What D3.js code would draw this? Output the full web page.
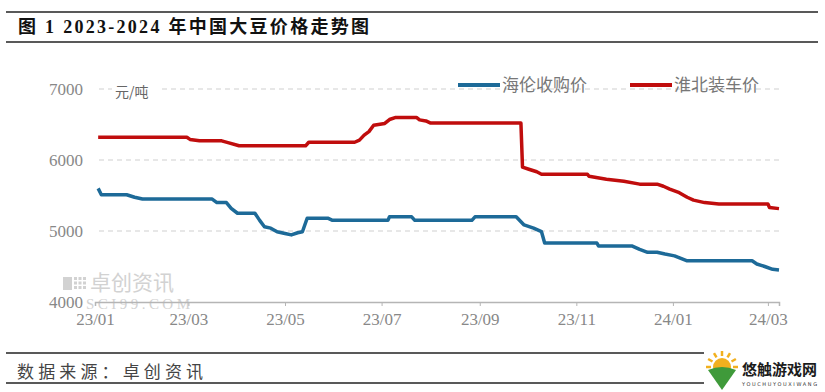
<!DOCTYPE html>
<html>
<head>
    <meta charset="utf-8">
    <title>2023-2024 年中国大豆价格走势图</title>
    <style>
        body { margin: 0; background: #fff; }
        svg { display: block; }
    </style>
    <script src="https://cdnjs.cloudflare.com/ajax/libs/d3/7.8.5/d3.min.js"></script>
</head>
<body>
    <script>
        const width = 825
        const height = 392

        const seriesNames = ["海伦收购价", "淮北装车价"]
        const seriesColors = ["#1d6a98", "#c00d0d"]
        const yTicks = [4000, 5000, 6000, 7000]

        // 海伦收购价
        const helunDates = ["2023-01-03","2023-01-05","2023-01-21","2023-01-26","2023-01-31","2023-03-16","2023-03-19","2023-03-25",
            "2023-03-28","2023-04-01","2023-04-12","2023-04-15","2023-04-18","2023-04-22","2023-04-26","2023-05-01","2023-05-05",
            "2023-05-09","2023-05-12","2023-05-15","2023-05-28","2023-05-31","2023-07-05","2023-07-06","2023-07-20","2023-07-22",
            "2023-08-27","2023-08-29","2023-09-24","2023-09-29","2023-10-05","2023-10-10","2023-10-12","2023-11-14","2023-11-15",
            "2023-12-06","2023-12-11","2023-12-16","2023-12-22","2023-12-27","2024-01-02","2024-01-06","2024-01-10","2024-02-20",
            "2024-02-23","2024-02-28","2024-03-04","2024-03-08"]
        const helunValues = [5600, 5510, 5510, 5475, 5450, 5450, 5400, 5400,
            5320, 5250, 5250, 5150, 5060, 5040, 4990, 4965, 4945,
            4975, 4990, 5180, 5180, 5150, 5150, 5200, 5200, 5150,
            5150, 5200, 5200, 5085, 5040, 4990, 4830, 4830, 4790,
            4790, 4740, 4700, 4700, 4675, 4650, 4615, 4580, 4580,
            4535, 4500, 4460, 4450]

        // 淮北装车价
        const huaibeiDates = ["2023-01-03","2023-02-28","2023-03-02","2023-03-08","2023-03-22","2023-03-26","2023-04-02","2023-05-14",
            "2023-05-16","2023-06-14","2023-06-17","2023-06-20","2023-06-23","2023-06-26","2023-07-03","2023-07-06","2023-07-10",
            "2023-07-23","2023-07-25","2023-07-29","2023-08-01","2023-09-27","2023-09-28","2023-10-02","2023-10-07","2023-10-10",
            "2023-11-08","2023-11-09","2023-11-20","2023-12-01","2023-12-11","2023-12-22","2023-12-26","2023-12-30","2024-01-05",
            "2024-01-10","2024-01-14","2024-01-21","2024-01-30","2024-03-01","2024-03-02","2024-03-08"]
        const huaibeiValues = [6320, 6320, 6290, 6270, 6270, 6245, 6200, 6200,
            6250, 6250, 6280, 6350, 6400, 6490, 6515, 6570, 6600,
            6600, 6565, 6550, 6520, 6520, 5900, 5870, 5835, 5800,
            5800, 5770, 5730, 5700, 5660, 5660, 5630, 5590, 5540,
            5475, 5435, 5400, 5380, 5380, 5330, 5315]

        const parse = d3.timeParse("%Y-%m-%d")
        const series = [
            d3.zip(helunDates.map(parse), helunValues),
            d3.zip(huaibeiDates.map(parse), huaibeiValues)
        ]

        const serif = "'Liberation Serif', 'Noto Sans CJK SC', serif"
        const cjk = "'Noto Sans CJK SC', sans-serif"

        let svg = d3.select("body").append("svg")
            .attr("width", width)
            .attr("height", height)

        // title block
        svg.append("line").attr("x1", 6).attr("x2", 818).attr("y1", 12).attr("y2", 12)
            .attr("stroke", "#222").attr("stroke-width", 1.5)
        svg.append("line").attr("x1", 6).attr("x2", 818).attr("y1", 42).attr("y2", 42)
            .attr("stroke", "#222").attr("stroke-width", 1.5)
        svg.append("text")
            .attr("x", 18).attr("y", 33)
            .attr("font-family", serif)
            .attr("font-weight", "bold")
            .attr("font-size", 18)
            .attr("fill", "#111")
            .attr("textLength", 351)
            .attr("lengthAdjust", "spacing")
            .text("图 1 2023-2024 年中国大豆价格走势图")

        let x = d3.scaleTime()
            .domain([parse("2023-01-01"), parse("2024-03-08")])
            .range([95, 779])
        let y = d3.scaleLinear()
            .domain([4000, 7000])
            .range([302, 89])

        // gridlines
        svg.append("g")
            .selectAll("line")
            .data(yTicks.slice(1))
            .join("line")
                .attr("x1", 99).attr("x2", 779)
                .attr("y1", d => y(d)).attr("y2", d => y(d))
                .attr("stroke", "#cfcfcf")
                .attr("stroke-dasharray", "5,4")

        // y labels
        svg.append("g")
            .selectAll("text")
            .data(yTicks)
            .join("text")
                .attr("x", 83)
                .attr("y", d => y(d) + 6)
                .attr("text-anchor", "end")
                .attr("font-family", serif)
                .attr("font-size", 17)
                .attr("fill", "#888")
                .text(d => d)

        // watermark
        let wm = svg.append("g").attr("fill", "#d2d2d2")
        wm.append("rect").attr("x", 63).attr("y", 277).attr("width", 9).attr("height", 13)
        d3.range(9).forEach(i => {
            wm.append("rect")
                .attr("x", 74 + (i % 3) * 4.5).attr("y", 277 + Math.floor(i / 3) * 4.5)
                .attr("width", 3).attr("height", 3)
        })
        wm.append("text")
            .attr("x", 90).attr("y", 290)
            .attr("font-family", cjk)
            .attr("font-size", 21)
            .text("卓创资讯")
        wm.append("text")
            .attr("x", 86).attr("y", 309)
            .attr("font-family", serif)
            .attr("font-size", 15)
            .attr("textLength", 104)
            .text("SCI99.COM")

        // x axis
        let xAxis = svg.append("g")
            .attr("transform", `translate(0, ${y(4000)})`)
            .call(d3.axisBottom(x)
                .ticks(d3.timeMonth.every(2))
                .tickFormat(d3.timeFormat("%y/%m"))
                .tickSize(4)
                .tickPadding(7))
        xAxis.select(".domain").attr("stroke", "#b5b5b5").attr("stroke-width", 1.5)
        xAxis.selectAll(".tick line").attr("stroke", "#b5b5b5")
        xAxis.selectAll(".tick text")
            .attr("font-family", serif)
            .attr("font-size", 17)
            .attr("fill", "#888")

        // unit label
        svg.append("rect").attr("x", 112).attr("y", 82).attr("width", 48).attr("height", 18).attr("fill", "#fff")
        svg.append("text")
            .attr("x", 115).attr("y", 97)
            .attr("font-family", cjk)
            .attr("font-size", 14)
            .attr("fill", "#666")
            .text("元/吨")

        // lines
        let line = d3.line()
            .x(d => x(d[0]))
            .y(d => y(d[1]))
        svg.append("g")
            .selectAll("path")
            .data(series)
            .join("path")
                .attr("d", line)
                .attr("fill", "none")
                .attr("stroke", (d, i) => seriesColors[i])
                .attr("stroke-width", 3.5)
                .attr("stroke-linejoin", "round")

        // legend
        let legend = svg.append("g")
            .selectAll("g")
            .data(seriesNames)
            .join("g")
                .attr("transform", (d, i) => `translate(${[458, 630][i]}, 85)`)
        legend.append("rect")
            .attr("x", 0).attr("y", -2)
            .attr("width", 42).attr("height", 4)
            .attr("fill", (d, i) => seriesColors[i])
        legend.append("text")
            .attr("x", 44).attr("y", 6)
            .attr("font-family", cjk)
            .attr("font-size", 17)
            .attr("fill", "#777")
            .text(d => d)

        // source footer
        svg.append("line").attr("x1", 6).attr("x2", 818).attr("y1", 353).attr("y2", 353)
            .attr("stroke", "#222").attr("stroke-width", 1.5)
        svg.append("line").attr("x1", 6).attr("x2", 818).attr("y1", 383).attr("y2", 383)
            .attr("stroke", "#222").attr("stroke-width", 1.5)
        svg.append("text")
            .attr("x", 17).attr("y", 378)
            .attr("font-family", cjk)
            .attr("font-size", 17)
            .attr("fill", "#444")
            .attr("textLength", 186)
            .attr("lengthAdjust", "spacing")
            .text("数据来源：卓创资讯")

        // site logo
        let logo = svg.append("g").attr("transform", "translate(722, 370)")
        logo.append("rect").attr("x", -18).attr("y", -20).attr("width", 118).attr("height", 42).attr("fill", "#fff")
        logo.append("circle").attr("cx", 0).attr("cy", -3).attr("r", 9).attr("fill", "#f2b01e")
        d3.range(7).forEach(i => {
            let a = Math.PI + i * Math.PI / 6
            logo.append("line")
                .attr("x1", 11 * Math.cos(a)).attr("y1", -3 + 11 * Math.sin(a))
                .attr("x2", 16 * Math.cos(a)).attr("y2", -3 + 16 * Math.sin(a))
                .attr("stroke", "#f2b01e").attr("stroke-width", 2.5)
        })
        logo.append("path")
            .attr("d", "M-14,0 Q0,-6 14,0 L0,20 Z")
            .attr("fill", "#3f9a3a")
        logo.append("text")
            .attr("x", 20).attr("y", 5)
            .attr("font-family", cjk)
            .attr("font-weight", "bold")
            .attr("font-size", 15)
            .attr("fill", "#1b1b1b")
            .text("悠触游戏网")
        logo.append("text")
            .attr("x", 20).attr("y", 16)
            .attr("font-family", "'DejaVu Sans', sans-serif")
            .attr("font-size", 5)
            .attr("fill", "#333")
            .attr("textLength", 75)
            .text("YOUCHUYOUXIWANG")
    </script>
</body>
</html>
